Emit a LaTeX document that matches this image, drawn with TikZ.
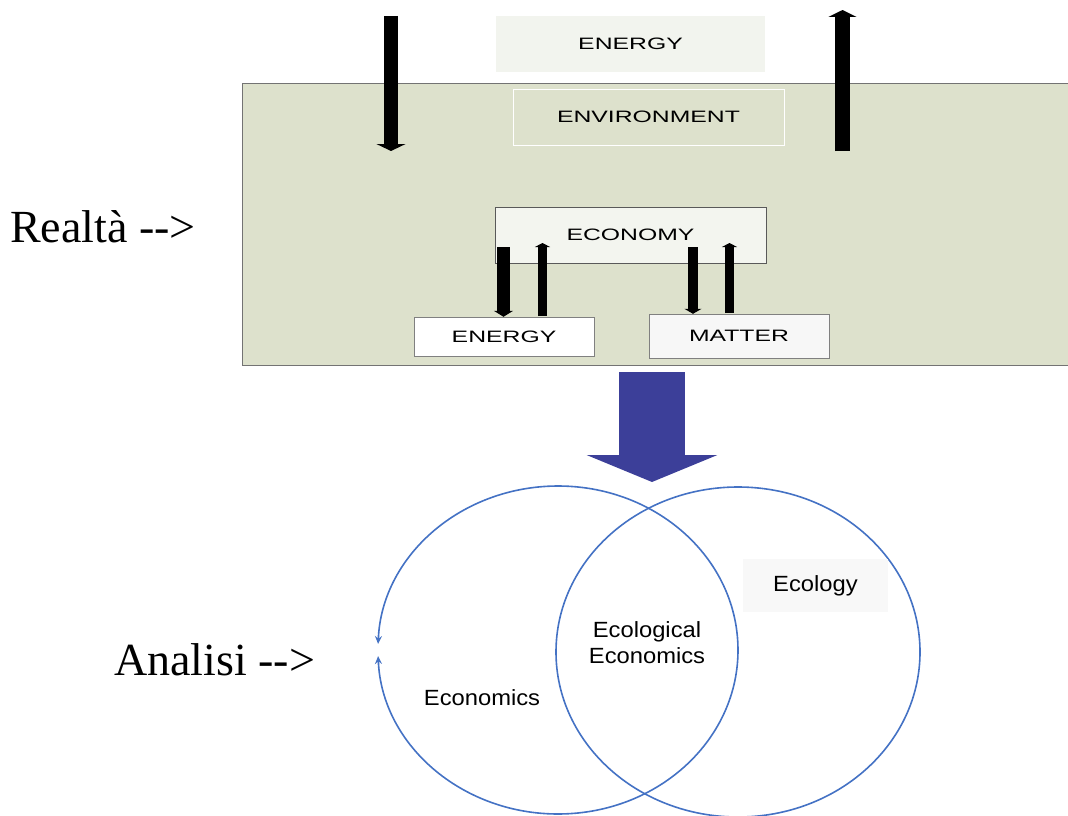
\documentclass[tikz,border=0pt]{standalone}
\usepackage{fontspec}
\usepackage{tikz}
\usetikzlibrary{arrows.meta}
\newfontfamily\boxfont[FakeStretch=1.5]{Liberation Sans}
\newfontfamily\vennfont[FakeStretch=1.08]{Liberation Sans}
\newfontfamily\bigserif{Liberation Serif}
\definecolor{envgreen}{HTML}{DDE1CC}
\definecolor{paleenergy}{HTML}{F2F4EE}
\definecolor{paleeco}{HTML}{F3F5EF}
\definecolor{palematter}{HTML}{F7F7F7}
\definecolor{paleecol}{HTML}{F8F8F8}
\definecolor{vennblue}{HTML}{4472C4}
\definecolor{bigblue}{HTML}{3C3F99}
\tikzset{
  capbox/.style={rectangle,inner sep=0pt,font=\boxfont\fontsize{16.5}{20}\selectfont},
  vennlabel/.style={inner sep=0pt,align=center,font=\vennfont\fontsize{22}{26}\selectfont},
  sidelabel/.style={inner sep=0pt,anchor=west,font=\bigserif\fontsize{46}{52}\selectfont},
  flow/.style={line width=#1,black}
}
\begin{document}
\begin{tikzpicture}[x=1pt,y=1pt,>=Triangle]
        \useasboundingbox (0,0) rectangle (1068,-816);
        \clip (0,0) rectangle (1068,-816);
        \node[capbox,fill=envgreen,draw=black!55,minimum width=828,minimum height=282] (environ) at (656,-224) {};
        \node[capbox,fill=paleenergy,minimum width=269,minimum height=56] (energytop) at (630.5,-44) {ENERGY};
        \node[capbox,fill=envgreen,draw=white,minimum width=271,minimum height=56] (envlabel) at (648.5,-117) {ENVIRONMENT};
        \node[capbox,fill=paleeco,draw=black!65,minimum width=271,minimum height=56] (economy) at (630.5,-235) {ECONOMY};
        \node[capbox,fill=white,draw=black!50,minimum width=180,minimum height=39] (energylow) at (504,-336.5) {ENERGY};
        \node[capbox,fill=palematter,draw=black!50,minimum width=180,minimum height=44] (matter) at (739,-336) {MATTER};
        \coordinate (intop) at (391,-16);
        \coordinate (inbot) at (391,-151);
        \coordinate (outbot) at (842.5,-151);
        \coordinate (outtop) at (842.5,-10);
        \coordinate (edown) at (503.5,-247);
        \coordinate (eup) at (542.5,-316);
        \coordinate (mdown) at (693,-247);
        \coordinate (mup) at (729.5,-313);
        \draw [flow=14,-{Triangle[width=29pt,length=7pt]}] (intop) -- (inbot);
        \draw [flow=15,-{Triangle[width=28pt,length=7pt]}] (outbot) -- (outtop);
        \draw [flow=13,-{Triangle[width=19pt,length=6pt]}] (edown) -- (edown |- energylow.north);
        \draw [flow=9,-{Triangle[width=15pt,length=4pt]}] (eup) -- (eup |- 0,-243);
        \draw [flow=10,-{Triangle[width=17pt,length=5pt]}] (mdown) -- (mdown |- matter.north);
        \draw [flow=9,-{Triangle[width=15pt,length=4pt]}] (mup) -- (mup |- 0,-243);
        \draw [line width=66,bigblue,-{Triangle[width=130pt,length=27pt]}] (652,-372) -- (652,-482);
        \draw [vennblue,line width=1.6,{Stealth[length=8pt,width=7pt]}-{Stealth[length=8pt,width=7pt]}] (558,-650) ++(182.1:180 and 164) arc [start angle=182.1,end angle=537.9,x radius=180,y radius=164];
        \draw [vennblue,line width=1.6] (738,-652) ellipse [x radius=182,y radius=165];
        \node[vennlabel,fill=paleecol,minimum width=145,minimum height=53] (ecology) at (815.5,-585.5) {Ecology};
        \node[vennlabel] (ecolecon) at (647,-643) {Ecological\\Economics};
        \node[vennlabel] (economics) at (482,-698) {Economics};
        \node[sidelabel] (realta) at (10,-227) {Realtà -->};
        \node[sidelabel] (analisi) at (114,-660) {Analisi -->};
    \end{tikzpicture}
\end{document}
